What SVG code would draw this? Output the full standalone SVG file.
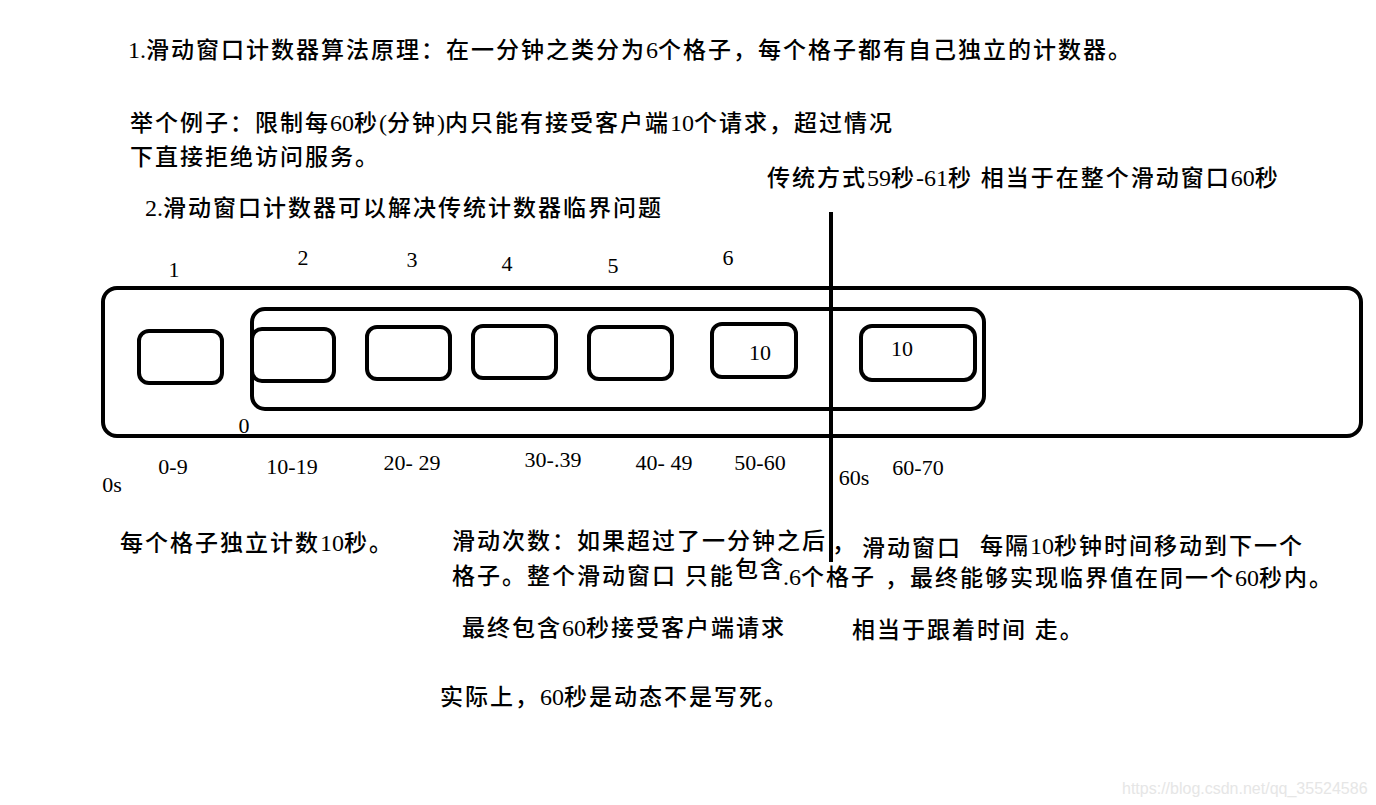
<svg xmlns="http://www.w3.org/2000/svg" width="1376" height="805" viewBox="0 0 1376 805">
<style>
.box{fill:none;stroke:#000;stroke-width:4}
.cn{font-family:"Liberation Serif","Noto Sans CJK SC",serif;font-size:23px;font-weight:500;fill:#000;letter-spacing:2px}
.d{letter-spacing:0;font-size:24px}
.num{font-family:"Liberation Serif",serif;font-size:22px;fill:#000}
.wm{font-family:"Liberation Sans",sans-serif;font-size:16px;fill:#e6e6e6}
</style>
<rect width="1376" height="805" fill="#fff"/>
<g id="texts-top">
<text class="cn" x="128" y="58"><tspan class="d">1.</tspan>滑动窗口计数器算法原理：在一分钟之类分为<tspan class="d">6</tspan>个格子，每个格子都有自己独立的计数器。</text>
<text class="cn" x="130" y="131">举个例子：限制每<tspan class="d">60</tspan>秒<tspan class="d">(</tspan>分钟<tspan class="d">)</tspan>内只能有接受客户端<tspan class="d">10</tspan>个请求，超过情况</text>
<text class="cn" x="130" y="165">下直接拒绝访问服务。</text>
<text class="cn" x="767" y="186">传统方式<tspan class="d">59</tspan>秒<tspan class="d">-61</tspan>秒 相当于在整个滑动窗口<tspan class="d">60</tspan>秒</text>
<text class="cn" x="145" y="216"><tspan class="d">2.</tspan>滑动窗口计数器可以解决传统计数器临界问题</text>
</g>
<g id="index-labels">
<text class="num" x="174" y="277" text-anchor="middle">1</text>
<text class="num" x="303" y="265" text-anchor="middle">2</text>
<text class="num" x="412" y="267" text-anchor="middle">3</text>
<text class="num" x="507" y="271" text-anchor="middle">4</text>
<text class="num" x="613" y="273" text-anchor="middle">5</text>
<text class="num" x="728" y="265" text-anchor="middle">6</text>
</g>
<g id="outer-window">
<rect class="box" x="103" y="288" width="1258" height="148" rx="14"/>
</g>
<g id="sliding-window">
<rect class="box" x="252" y="309" width="732" height="100" rx="13"/>
</g>
<g id="cell-1"><rect class="box" x="139" y="331" width="83" height="52" rx="10"/></g>
<g id="cell-2"><rect class="box" x="252" y="329" width="82" height="52" rx="10"/></g>
<g id="cell-3"><rect class="box" x="367" y="327" width="83" height="52" rx="10"/></g>
<g id="cell-4"><rect class="box" x="473" y="326" width="83" height="52" rx="10"/></g>
<g id="cell-5"><rect class="box" x="589" y="327" width="83" height="52" rx="10"/></g>
<g id="cell-6"><rect class="box" x="712" y="324" width="84" height="53" rx="10"/>
<text class="num" x="760" y="360" text-anchor="middle">10</text></g>
<g id="cell-7"><rect class="box" x="861" y="326" width="114" height="54" rx="11"/>
<text class="num" x="902" y="356" text-anchor="middle">10</text></g>
<g id="connectors">
<line x1="831" y1="212" x2="831" y2="562" stroke="#000" stroke-width="4"/>
</g>
<g id="range-labels">
<text class="num" x="244" y="433" text-anchor="middle">0</text>
<text class="num" x="173" y="474" text-anchor="middle">0-9</text>
<text class="num" x="292" y="474" text-anchor="middle">10-19</text>
<text class="num" x="412" y="470" text-anchor="middle">20- 29</text>
<text class="num" x="553" y="467" text-anchor="middle">30-.39</text>
<text class="num" x="664" y="470" text-anchor="middle">40- 49</text>
<text class="num" x="760" y="470" text-anchor="middle">50-60</text>
<text class="num" x="112" y="492" text-anchor="middle">0s</text>
<text class="num" x="854" y="485" text-anchor="middle">60s</text>
<text class="num" x="918" y="475" text-anchor="middle">60-70</text>
</g>
<g id="texts-bottom">
<text class="cn" x="120" y="551">每个格子独立计数<tspan class="d">10</tspan>秒。</text>
<text class="cn" x="452" y="549">滑动次数：如果超过了一分钟之后</text>
<text class="cn" x="832" y="551">，</text>
<text class="cn" x="862" y="556">滑动窗口</text>
<text class="cn" x="980" y="554">每隔<tspan class="d">10</tspan>秒钟时间移动到下一个</text>
<text class="cn" x="452" y="584">格子。整个滑动窗口 只能</text>
<text class="cn" x="735" y="577">包含</text>
<text class="cn" x="783" y="585"><tspan class="d">.6</tspan>个格子</text>
<text class="cn" x="885" y="586">，最终能够实现临界值在同一个<tspan class="d">60</tspan>秒内。</text>
<text class="cn" x="462" y="636">最终包含<tspan class="d">60</tspan>秒接受客户端请求</text>
<text class="cn" x="852" y="638">相当于跟着时间 走。</text>
<text class="cn" x="440" y="705">实际上，<tspan class="d">60</tspan>秒是动态不是写死。</text>
</g>
<text class="wm" x="1122" y="794">https://blog.csdn.net/qq_35524586</text>
</svg>
